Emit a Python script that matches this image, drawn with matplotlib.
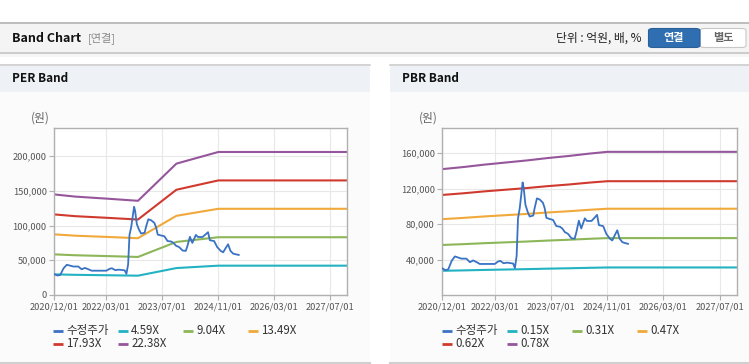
import pandas as pd
import matplotlib
matplotlib.use('Agg')
import matplotlib.pyplot as plt
from matplotlib.patches import Rectangle, FancyBboxPatch
from matplotlib.lines import Line2D
from matplotlib.ticker import StrMethodFormatter

plt.rcParams['font.family'] = ['Noto Sans CJK KR', 'DejaVu Sans']

# adjusted share price (수정주가)
price_dates = ['2020-12-01', '2020-12-30', '2021-01-22', '2021-02-20', '2021-03-20', '2021-04-17',
               '2021-05-16', '2021-06-28', '2021-07-28', '2021-08-25', '2021-09-25', '2021-10-22',
               '2021-11-22', '2022-01-18', '2022-03-01', '2022-03-28', '2022-04-18', '2022-05-16',
               '2022-06-16', '2022-07-13', '2022-08-07', '2022-08-22', '2022-09-06', '2022-09-18',
               '2022-10-03', '2022-10-28', '2022-11-06', '2022-11-21', '2022-12-10', '2022-12-28',
               '2023-01-28', '2023-02-09', '2023-03-01', '2023-03-25', '2023-04-22', '2023-05-07',
               '2023-05-22', '2023-06-18', '2023-07-19', '2023-08-16', '2023-09-16', '2023-10-07',
               '2023-10-28', '2023-11-25', '2023-12-25', '2024-01-22', '2024-02-06', '2024-02-27',
               '2024-03-19', '2024-04-19', '2024-05-07', '2024-06-16', '2024-07-13', '2024-08-03',
               '2024-08-19', '2024-09-25', '2024-10-22', '2024-11-22', '2024-12-13', '2025-01-03',
               '2025-01-25', '2025-02-15', '2025-03-10', '2025-03-28', '2025-04-28']
price = [30000, 28000, 29000, 38500, 43500, 42300,
         41000, 41000, 37000, 39000, 37000, 35000,
         35000, 35000, 35000, 37700, 38500, 35800,
         36500, 36000, 35500, 30400, 44000, 86500,
         98000, 127000, 121000, 102000, 94000, 88500,
         89600, 98000, 109000, 107700, 104000, 98000,
         87000, 85800, 84600, 77700, 77000, 75000,
         71000, 69000, 64000, 63500, 71000, 83800,
         75000, 86500, 83500, 83500, 87300, 90400,
         78800, 77700, 69000, 63500, 61500, 67300,
         73000, 63500, 59600, 58800, 57700]

# EPS behind the PER bands
eps_dates = ['2020-12-01', '2021-06-01', '2022-03-01', '2022-12-01', '2023-11-01',
             '2024-03-01', '2024-07-01', '2024-11-01', '2027-12-01']
eps = [6470, 6330, 6200, 6060, 8450, 8700, 8950, 9200, 9200]
per_mult = [4.59, 9.04, 13.49, 17.93, 22.38]

# BPS behind the PBR bands
bps_dates = ['2020-12-01', '2021-06-01', '2021-12-01', '2022-06-01', '2022-12-01',
             '2023-06-01', '2023-12-01', '2024-06-01', '2024-11-01', '2027-12-01']
bps = [182000, 185000, 188500, 191500, 194500, 198000, 201000, 204500, 207000, 207000]
pbr_mult = [0.15, 0.31, 0.47, 0.62, 0.78]

xtick_dates = ['2020-12-01', '2022-03-01', '2023-07-01', '2024-11-01', '2026-03-01', '2027-07-01']
xtick_labels = ['2020/12/01', '2022/03/01', '2023/07/01', '2024/11/01', '2026/03/01', '2027/07/01']

price_col = '#3a72c4'
band_cols = ['#22b2c2', '#8cb658', '#f0a93a', '#d03a2e', '#95569c']

W, H = 749, 364
fig = plt.figure(figsize=(W / 100, H / 100), dpi=100)
fig.patch.set_facecolor('white')


def fx(x):
    return x / W


def fy(y):
    return 1 - y / H


def rect(x0, y0, x1, y1, color, z=-2):
    fig.add_artist(Rectangle((fx(x0), fy(y1)), (x1 - x0) / W, (y1 - y0) / H,
                             transform=fig.transFigure, facecolor=color, edgecolor='none', zorder=z))


def hline(x0, x1, y, color, lw=1.0):
    fig.add_artist(Line2D([fx(x0), fx(x1)], [fy(y), fy(y)], transform=fig.transFigure,
                          color=color, lw=lw, zorder=-1))


# top header bar
rect(0, 22, W, 53, '#f4f4f4')
hline(0, W, 22.5, '#b4b4b4', 1.2)
hline(0, W, 52.5, '#c4c4c4', 1.2)
rect(0, 53, W, 57, '#f6f6f6')
fig.text(fx(12), fy(38), 'Band Chart', fontsize=9, fontweight='bold', color='#111111', va='center')
fig.text(fx(88), fy(38), '[연결]', fontsize=8, color='#8a8a8a', va='center')
fig.text(fx(642), fy(38), '단위 : 억원, 배, %', fontsize=8.5, color='#222222', va='center', ha='right')
fig.add_artist(FancyBboxPatch((fx(700), fy(47.5)), (746 - 700) / W, 19 / H,
                              boxstyle='round,pad=0,rounding_size=0.006', transform=fig.transFigure,
                              facecolor='white', edgecolor='#c8c8c8', lw=0.8, zorder=1))
fig.add_artist(FancyBboxPatch((fx(648.5), fy(47.5)), (700 - 648.5) / W, 19 / H,
                              boxstyle='round,pad=0,rounding_size=0.006', transform=fig.transFigure,
                              facecolor='#2f6eb0', edgecolor='#2a5f9a', lw=0.8, zorder=2))
fig.text(fx(674), fy(38), '연결', fontsize=8, fontweight='bold', color='white', va='center', ha='center', zorder=3)
fig.text(fx(723), fy(38), '별도', fontsize=8, fontweight='bold', color='#666666', va='center', ha='center', zorder=3)

# panels
for x0, x1, title in [(0, 370, 'PER Band'), (390, W, 'PBR Band')]:
    rect(x0, 92, x1, 362, '#fbfbfb')
    rect(x0, 64, x1, 92, '#eef2f7')
    hline(x0, x1, 64.5, '#cfcfcf', 1.2)
    hline(x0, x1, 362.5, '#cfcfcf', 1.5)
    fig.text(fx(x0 + 12), fy(79), title, fontsize=8.5, fontweight='bold', color='#111111', va='center')

dates = pd.to_datetime(price_dates)
xt = pd.to_datetime(xtick_dates)
xmin, xmax = pd.Timestamp('2020-12-01'), pd.Timestamp('2027-12-01')


def draw_panel(left, width, base_dates, base, mults, ymax, yticks, leg_x):
    ax = fig.add_axes([fx(left), fy(295), width / W, (295 - 128.3) / H])
    ax.set_facecolor('white')
    bd = pd.to_datetime(base_dates)
    labels = []
    for m, c in zip(mults, band_cols):
        ax.plot(bd, [v * m for v in base], color=c, lw=1.5, solid_capstyle='butt')
        labels.append(f'{m:.2f}X')
    ax.plot(dates, price, color=price_col, lw=1.3, zorder=5)
    ax.set_xlim(xmin, xmax)
    ax.set_ylim(0, ymax)
    ax.set_xticks(xt)
    ax.set_xticklabels(xtick_labels)
    ax.set_yticks(yticks)
    ax.yaxis.set_major_formatter(StrMethodFormatter('{x:,.0f}'))
    ax.grid(True, color='#e8e8e8', lw=0.8)
    ax.set_axisbelow(True)
    for s in ax.spines.values():
        s.set_color('#b0b0b0')
        s.set_linewidth(1.0)
    ax.tick_params(axis='both', colors='#b0b0b0', labelcolor='#555555', labelsize=6.7,
                   length=3.5, width=0.8, pad=2)
    fig.text(fx(left - 5), fy(118), '(원)', fontsize=8.5, color='#666666', ha='right', va='center')

    # legend laid out in the page's fixed 65 px columns
    entries = [(price_col, '수정주가')] + list(zip(band_cols, labels))
    for i, (c, lab) in enumerate(entries):
        row, col = divmod(i, 4)
        x = leg_x + col * 65
        y = 330.5 + row * 13.3
        fig.add_artist(Line2D([fx(x), fx(x + 10)], [fy(y), fy(y)], transform=fig.transFigure,
                              color=c, lw=2, solid_capstyle='butt'))
        fig.text(fx(x + 13), fy(y), lab, fontsize=8.3, color='#333333', va='center')
    return ax


draw_panel(54.3, 293, eps_dates, eps, per_mult, 240000,
           [0, 50000, 100000, 150000, 200000], 53.3)
draw_panel(442.3, 295, bps_dates, bps, pbr_mult, 188000,
           [40000, 80000, 120000, 160000], 442.3)

fig.savefig('out.png', dpi=100, facecolor='white')
